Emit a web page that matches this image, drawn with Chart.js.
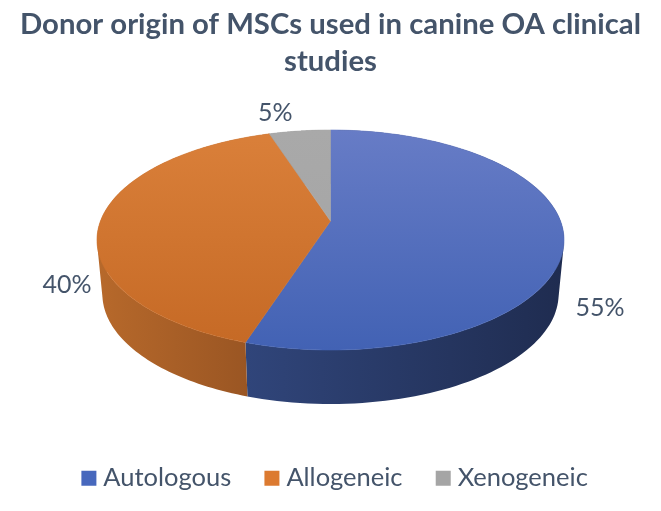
<!DOCTYPE html>
<html>
<head>
<meta charset="utf-8">
<title>Donor origin of MSCs</title>
<script src="https://cdn.jsdelivr.net/npm/chart.js@4"></script>
<style>
  body { margin: 0; background: #fff; }
</style>
</head>
<body>
<canvas id="pieChart" width="661" height="511"></canvas>
<script>
// Data
const categories = ['Autologous', 'Allogeneic', 'Xenogeneic'];
const percentages = [55, 40, 5];
const titleLines = ['Donor origin of MSCs used in canine OA clinical', 'studies'];

// Colours
const textColor = '#44546a';
const legendColors = ['#4768bd', '#dc7a30', '#a5a5a5'];
const topColors = [['#677cc6', '#4262b4'], ['#da803a', '#c56925'], ['#a9a9a9', '#a3a3a3']];
const wallColors = [['#30457a', '#1f2c50'], ['#b7692b', '#965322'], ['#7a7a7a', '#7a7a7a']];

// 3D look: the pie is seen in perspective, so the slices are projected by hand
const pieCenterY = 221;
const tilt = 0.464;
const perspective = 0.1727;
const wallDepth = 54;
const wallShrink = 0.977;
const labelRadius = 1.15;
const labelNudge = [[1, 67], [1, 64], [-20, -5]];

function project(arc, angle, factor = 1) {
    const w = 1 - perspective * Math.sin(angle);
    return {
        x: arc.x + factor * arc.outerRadius * Math.cos(angle) / w,
        y: pieCenterY + factor * arc.outerRadius * tilt * Math.sin(angle) / w
    };
}

function rimPoints(arc) {
    const steps = 120;
    const points = [];
    for (let i = 0; i <= steps; i++) {
        points.push(project(arc, arc.startAngle + (arc.endAngle - arc.startAngle) * i / steps));
    }
    return points;
}

function signedArea(quad) {
    return quad.reduce((sum, p, i) => {
        const q = quad[(i + 1) % quad.length];
        return sum + p.x * q.y - q.x * p.y;
    }, 0);
}

const pie3d = {
    id: 'pie3d',
    // legend is a bit right of the middle in the original
    afterLayout(chart) {
        chart.legend.left += 7;
        chart.legend.right += 7;
    },
    // replaces the flat arcs of the dataset
    beforeDatasetDraw(chart) {
        const ctx = chart.ctx;
        const arcs = chart.getDatasetMeta(0).data;

        // side walls first, the top faces cover what is behind
        arcs.forEach((arc, i) => {
            const rim = rimPoints(arc);
            const grad = ctx.createLinearGradient(Math.min(...rim.map(p => p.x)), 0, Math.max(...rim.map(p => p.x)), 0);
            grad.addColorStop(0, wallColors[i][0]);
            grad.addColorStop(1, wallColors[i][1]);
            const lower = p => ({ x: arc.x + (p.x - arc.x) * wallShrink, y: p.y + wallDepth });
            // one path for all the strips, otherwise the seams show
            ctx.beginPath();
            for (let k = 0; k < rim.length - 1; k++) {
                const quad = [rim[k], rim[k + 1], lower(rim[k + 1]), lower(rim[k])];
                // same winding everywhere, so the strips add up at the pie's sides
                if (signedArea(quad) < 0) quad.reverse();
                quad.forEach((p, n) => n ? ctx.lineTo(p.x, p.y) : ctx.moveTo(p.x, p.y));
                ctx.closePath();
            }
            ctx.fillStyle = grad;
            ctx.fill();
        });

        // top faces
        arcs.forEach((arc, i) => {
            const top = project(arc, -Math.PI / 2);
            const bottom = project(arc, Math.PI / 2);
            const grad = ctx.createLinearGradient(0, top.y, 0, bottom.y);
            grad.addColorStop(0, topColors[i][0]);
            grad.addColorStop(1, topColors[i][1]);
            const apex = project(arc, 0, 0);
            ctx.beginPath();
            ctx.moveTo(apex.x, apex.y);
            rimPoints(arc).forEach(p => ctx.lineTo(p.x, p.y));
            ctx.closePath();
            ctx.fillStyle = grad;
            ctx.strokeStyle = grad;
            ctx.lineWidth = 0.6;
            ctx.fill();
            ctx.stroke();
        });

        // percent labels
        ctx.fillStyle = textColor;
        ctx.font = '25px Lato';
        ctx.textAlign = 'center';
        ctx.textBaseline = 'middle';
        arcs.forEach((arc, i) => {
            const pos = project(arc, (arc.startAngle + arc.endAngle) / 2, labelRadius);
            ctx.fillText(percentages[i] + '%', pos.x + labelNudge[i][0], pos.y + labelNudge[i][1]);
        });
        return false;
    }
};

new Chart(document.getElementById('pieChart').getContext('2d'), {
    type: 'pie',
    data: {
        labels: categories,
        datasets: [{
            data: percentages,
            backgroundColor: legendColors,
            borderWidth: 0,
            radius: 230
        }]
    },
    plugins: [pie3d],
    options: {
        responsive: false,
        animation: false,
        devicePixelRatio: 1,
        clip: false,
        layout: { padding: { top: 6, bottom: 10 } },
        plugins: {
            title: {
                display: true,
                text: titleLines,
                color: textColor,
                font: { family: 'Lato', size: 29.3, weight: 'bold', lineHeight: 1.26 },
                padding: { top: 0, bottom: 10 }
            },
            legend: {
                position: 'bottom',
                labels: {
                    color: textColor,
                    font: { family: 'Lato', size: 25.5 },
                    // thin box plus thick border: keeps the square close to its text
                    boxWidth: 3.4,
                    boxHeight: 3.4,
                    padding: 39,
                    generateLabels: chart => Chart.overrides.pie.plugins.legend.labels.generateLabels(chart)
                        .map(item => ({ ...item, lineWidth: 11.6, strokeStyle: item.fillStyle }))
                }
            },
            tooltip: { enabled: false }
        }
    }
});
</script>
</body>
</html>
